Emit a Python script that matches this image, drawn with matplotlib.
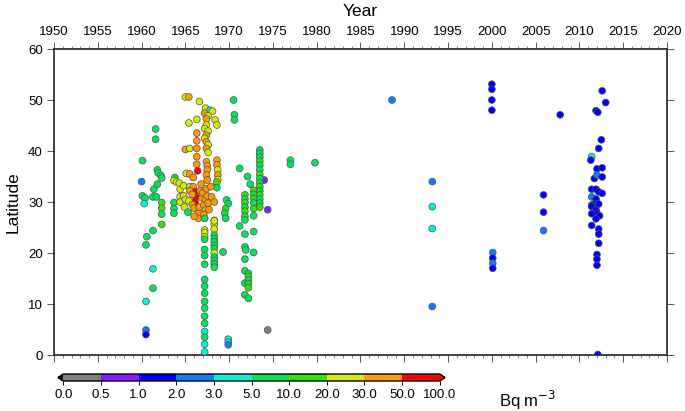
import matplotlib
matplotlib.use("Agg")
import matplotlib.pyplot as plt
import numpy as np
from matplotlib import font_manager
from matplotlib.colors import ListedColormap, BoundaryNorm
from matplotlib.cm import ScalarMappable
from matplotlib.ticker import MultipleLocator

# ---------------- data ----------------
year = [
    # 1960-1962
    1960.1, 1960.0, 1960.1, 1960.4, 1960.3, 1961.6, 1961.6, 1961.8, 1961.9, 1962.2,
    1962.3, 1961.4, 1961.8, 1961.3, 1961.7, 1962.3, 1962.3, 1962.3, 1962.3, 1961.3,
    1960.6, 1960.5, 1961.3, 1961.3, 1960.5, 1960.5, 1960.5,
    # 1963.5-1967.7 lower cluster
    1963.8, 1963.7, 1964.0, 1964.3, 1963.7, 1963.7, 1963.7, 1964.4, 1964.4, 1964.4,
    1964.8, 1965.0, 1965.1, 1965.5, 1965.9, 1965.0, 1965.5, 1965.0, 1965.4, 1965.4,
    1966.3, 1966.6, 1966.3, 1966.3, 1966.3, 1966.3, 1966.3, 1966.4, 1964.8, 1965.5,
    1965.9, 1966.1, 1966.2, 1966.1, 1965.5, 1965.8, 1965.4, 1965.8, 1966.0, 1966.5,
    1966.5, 1966.6, 1966.8, 1966.7, 1966.9, 1967.0, 1967.1, 1967.3, 1967.1, 1967.3,
    1967.4, 1967.5, 1967.6, 1967.7, 1964.9, 1965.3, 1966.0, 1967.2,
    # upper 1967-1969 columns
    1967.3, 1967.8, 1968.1, 1967.2, 1967.6, 1967.4, 1968.4, 1968.6, 1967.4, 1967.2,
    1967.6, 1967.4, 1967.2, 1967.4, 1967.6, 1967.4, 1967.6, 1967.4, 1967.5, 1967.5,
    1967.4, 1967.5, 1968.6, 1968.6, 1968.7, 1968.7, 1968.7, 1968.6, 1968.6, 1968.0,
    1968.3, 1967.9,
    # 1967.2 lower column
    1967.2, 1967.2, 1967.2, 1967.2, 1967.2, 1967.2, 1967.2, 1967.2, 1967.2, 1967.2,
    1967.2, 1967.2, 1967.2, 1967.2, 1967.2, 1967.2, 1967.2, 1967.2,
    # 1968.3 lower column
    1968.3, 1968.3, 1968.3, 1968.3, 1968.3, 1968.3, 1968.3, 1968.3, 1968.3, 1968.3,
    1968.3, 1968.3, 1968.3, 1968.3,
    # 1969-1975
    1970.5, 1970.6, 1970.6, 1971.2, 1972.1, 1972.4, 1974.4, 1974.0,
    1973.5, 1973.5, 1973.5, 1973.5, 1973.5, 1973.5, 1973.5, 1973.5, 1973.5, 1973.5,
    1973.5, 1973.5, 1973.5, 1973.5, 1973.5,
    1972.8, 1972.8, 1972.8, 1972.8, 1972.8, 1972.8,
    1971.8, 1971.8, 1971.8, 1971.8, 1971.8, 1971.8,
    1969.7, 1969.9, 1969.6, 1969.5, 1969.6, 1969.3,
    1971.8, 1971.8, 1971.8, 1971.9, 1971.8, 1971.8, 1971.8, 1971.8,
    1971.2, 1972.8, 1972.8,
    1972.2, 1972.2, 1972.2, 1972.2, 1972.2, 1972.2,
    1974.4, 1969.9, 1969.9, 1969.9,
    # 1977-1980
    1977.0, 1977.0, 1979.8,
    # 1988-2008
    1988.6, 1993.2, 1993.2, 1993.2, 1993.2,
    2000.0, 2000.0, 2000.0, 2000.0, 2000.1, 2000.1, 2000.1, 2000.1,
    2005.9, 2005.9, 2005.9, 2007.8,
    # 2011-2013
    2012.6, 2013.0, 2011.9, 2012.1, 2012.5, 2012.2, 2011.4, 2011.3, 2012.0, 2012.6,
    2011.7, 2012.0, 2012.6, 2011.4, 2011.9, 2012.2, 2012.6, 2011.4, 2011.9, 2011.8,
    2012.2, 2011.4, 2011.4, 2011.9, 2012.0, 2012.3, 2011.4, 2011.9, 2011.4, 2012.2,
    2012.2, 2012.2, 2012.0, 2012.0, 2012.0, 2012.1,
]

latitude = [
    38.1, 34.0, 31.2, 30.8, 29.7, 44.3, 42.3, 36.3, 35.7, 35.2,
    34.7, 32.5, 33.5, 31.0, 31.0, 29.9, 28.8, 27.6, 25.6, 24.4,
    23.2, 21.6, 16.9, 13.1, 10.5, 4.9, 4.0,
    34.8, 34.2, 33.9, 33.7, 29.9, 28.7, 27.8, 32.5, 31.0, 30.0,
    31.2, 30.5, 35.6, 35.5, 34.8, 40.3, 40.5, 50.6, 50.6, 45.5,
    46.2, 49.7, 43.5, 42.0, 40.5, 38.9, 37.4, 36.1, 33.2, 33.0,
    33.0, 32.0, 31.0, 30.0, 32.2, 31.5, 30.2, 29.5, 28.8, 27.8,
    26.8, 29.0, 33.5, 32.2, 30.8, 31.8, 29.4, 28.4, 27.5, 30.5,
    32.6, 31.2, 29.8, 28.5, 29.0, 28.0, 27.2, 26.8,
    48.4, 48.0, 47.8, 47.4, 46.9, 46.3, 46.1, 45.1, 45.1, 44.4,
    43.9, 43.1, 42.5, 41.8, 41.2, 40.5, 39.7, 37.9, 37.1, 36.3,
    35.3, 34.3, 38.2, 37.3, 36.3, 35.3, 34.4, 33.9, 32.8, 31.0,
    30.0, 33.0,
    24.5, 24.0, 23.2, 22.7, 20.7, 19.5, 17.8, 14.8, 13.5, 12.1,
    10.5, 9.2, 7.6, 6.2, 4.6, 3.5, 2.1, 0.6,
    26.4, 25.6, 24.7, 23.5, 22.8, 22.2, 21.5, 20.9, 20.0, 19.2,
    18.5, 17.9, 17.2, 26.3,
    50.0, 47.1, 46.1, 36.6, 35.0, 33.5, 28.5, 34.3,
    40.2, 39.5, 38.8, 38.0, 37.2, 36.3, 35.4, 34.6, 33.8, 33.0,
    32.2, 31.4, 30.6, 29.8, 29.0,
    32.3, 31.5, 30.7, 29.8, 28.7, 27.3,
    31.4, 30.6, 29.9, 29.0, 28.2, 27.2,
    30.4, 29.7, 28.7, 27.8, 26.8, 20.2,
    26.5, 23.7, 21.2, 20.6, 18.8, 16.5, 14.1, 11.8,
    25.3, 24.2, 20.1,
    16.0, 15.4, 14.7, 14.0, 13.2, 11.1,
    4.9, 3.1, 2.5, 2.0,
    38.2, 37.4, 37.7,
    50.0, 34.0, 29.1, 24.8, 9.5,
    53.1, 52.1, 50.0, 48.0, 20.1, 19.0, 18.0, 17.0,
    31.4, 28.0, 24.4, 47.1,
    51.8, 49.5, 47.9, 47.6, 42.2, 40.5, 38.9, 38.2, 36.5, 36.7,
    34.6, 35.3, 34.9, 32.5, 32.5, 32.0, 31.7, 31.0, 30.6, 29.7,
    29.6, 29.4, 29.1, 28.4, 27.8, 27.3, 27.7, 26.7, 25.4, 24.7,
    23.7, 21.9, 19.7, 18.8, 17.6, 0.1,
]

concentration = [
    7, 2.5, 7, 7, 4, 7, 7, 7, 7, 7,
    7, 7, 7, 7, 7, 15, 15, 7, 15, 7,
    7, 7, 4, 7, 4, 2.5, 1.5,
    7, 25, 25, 25, 7, 7, 7, 25, 25, 25,
    25, 25, 25, 40, 40, 40, 25, 25, 40, 25,
    25, 25, 40, 40, 40, 40, 40, 70, 25, 25,
    40, 70, 70, 70, 40, 40, 25, 40, 40, 40,
    40, 40, 40, 40, 40, 40, 40, 40, 40, 40,
    40, 40, 40, 40, 25, 7, 40, 7,
    25, 4, 25, 40, 25, 40, 25, 25, 25, 25,
    25, 40, 25, 40, 25, 40, 25, 40, 40, 40,
    40, 40, 40, 40, 25, 40, 25, 15, 7, 40,
    40, 40,
    25, 25, 25, 7, 7, 7, 7, 7, 7, 7,
    7, 7, 7, 7, 4, 7, 4, 4,
    25, 25, 25, 7, 7, 7, 7, 7, 25, 7,
    7, 7, 7, 25,
    7, 7, 7, 7, 7, 7, 0.7, 0.7,
    7, 7, 7, 15, 7, 7, 15, 7, 7, 15,
    7, 15, 7, 7, 15,
    15, 7, 15, 7, 15, 7,
    15, 7, 15, 7, 15, 7,
    7, 7, 15, 7, 7, 7,
    7, 7, 7, 7, 7, 7, 7, 7,
    7, 7, 7,
    7, 15, 7, 7, 15, 7,
    0.3, 4, 4, 2.5,
    7, 7, 7,
    2.5, 2.5, 4, 4, 2.5,
    1.5, 1.5, 1.5, 1.5, 2.5, 1.5, 2.5, 1.5,
    1.5, 1.5, 2.5, 1.5,
    1.5, 1.5, 1.5, 1.5, 1.5, 1.5, 4, 1.5, 1.5, 1.5,
    1.5, 2.5, 1.5, 1.5, 1.5, 1.5, 1.5, 2.5, 1.5, 1.5,
    1.5, 1.5, 1.5, 1.5, 1.5, 1.5, 1.5, 1.5, 1.5, 1.5,
    1.5, 1.5, 1.5, 1.5, 1.5, 1.5,
]

bounds = [0.0, 0.5, 1.0, 2.0, 3.0, 5.0, 10.0, 20.0, 30.0, 50.0, 100.0]
bin_colors = ['#808080', '#8a1aff', '#0000ff', '#0a80ff', '#00f5d8',
              '#00e65a', '#3ce000', '#d2ee00', '#ff9a00', '#ff0000']
x_ticks = list(range(1950, 2021, 5))
y_ticks = list(range(0, 61, 10))

# ---------------- style ----------------
names = {f.name for f in font_manager.fontManager.ttflist}
fam = 'Liberation Sans Narrow' if 'Liberation Sans Narrow' in names else 'Liberation Sans'
fs = 11 if fam == 'Liberation Sans Narrow' else 9.5
plt.rcParams['font.family'] = [fam, 'DejaVu Sans']

fig = plt.figure(figsize=(6.85, 4.11), dpi=100)
ax = fig.add_axes([54 / 685, 1 - 355 / 411, 613 / 685, 306 / 411])

cmap = ListedColormap(bin_colors).with_extremes(under='#111111', over='#ff0000')
norm = BoundaryNorm(bounds, len(bin_colors))

ax.scatter(year, latitude, c=concentration, cmap=cmap, norm=norm, s=24,
           edgecolors='#505050', linewidths=0.5, zorder=3)

ax.set_xlim(1950, 2020)
ax.set_ylim(0, 60)
ax.set_xticks(x_ticks)
ax.set_yticks(y_ticks)
ax.xaxis.set_minor_locator(MultipleLocator(1))
ax.xaxis.tick_top()
ax.xaxis.set_label_position('top')
ax.tick_params(axis='x', which='both', top=True, bottom=True, labeltop=True,
               labelbottom=False, direction='out', color='#555555')
ax.tick_params(axis='y', which='both', left=True, right=True, labelleft=True,
               labelright=False, direction='out', color='#555555')
ax.tick_params(which='major', length=5, width=0.7, labelsize=fs, pad=3)
ax.tick_params(which='minor', length=2.5, width=0.5)
for sp in ax.spines.values():
    sp.set_linewidth(1.3)
    sp.set_color('#333333')

ax.set_xlabel('Year', fontsize=fs + 3, labelpad=7)
ax.set_ylabel('Latitude', fontsize=fs + 3, labelpad=5)

# colorbar
cax = fig.add_axes([58 / 685, 1 - 381 / 411, 387 / 685, 7 / 411])
cb = fig.colorbar(ScalarMappable(norm=norm, cmap=cmap), cax=cax, orientation='horizontal',
                  extend='both', spacing='uniform', ticks=bounds, extendfrac=0.014)
cb.ax.set_xticklabels([f'{b:.1f}' for b in bounds])
cb.ax.tick_params(labelsize=fs, length=3, width=0.7, pad=3)
cb.outline.set_linewidth(1.0)
fig.text(528 / 685, 1 - 400 / 411, 'Bq m$^{-3}$', fontsize=fs + 2.5,
         ha='center', va='center')

fig.savefig('out.png', dpi=100)
